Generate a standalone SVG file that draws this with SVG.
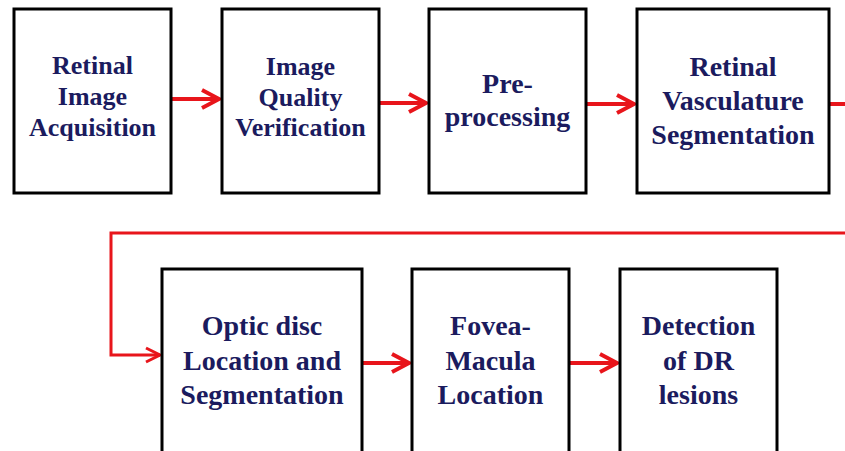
<svg xmlns="http://www.w3.org/2000/svg" width="845" height="451" viewBox="0 0 845 451">
  <style>
    .box { fill: #ffffff; stroke: #000000; stroke-width: 3; }
    .lbl { font-family: "Liberation Serif", "Times New Roman", serif; font-weight: bold; fill: #1b1b5e; text-anchor: middle; }
    .s26 { font-size: 26px; }
    .s28 { font-size: 28px; }
    .flow { fill: none; stroke: #e8151b; stroke-width: 4; }
    .loop { fill: none; stroke: #e8151b; stroke-width: 3; }
  </style>
  <defs>
    <marker id="head" markerUnits="userSpaceOnUse" orient="auto" refX="0" refY="0" markerWidth="30" markerHeight="30" overflow="visible">
      <path d="M -17 -9 L 0 0 L -17 9" fill="none" stroke="#e8151b" stroke-width="4" stroke-linejoin="miter"/>
    </marker>
    <marker id="headThin" markerUnits="userSpaceOnUse" orient="auto" refX="0" refY="0" markerWidth="30" markerHeight="30" overflow="visible">
      <path d="M -14 -7 L 0 0 L -14 7" fill="none" stroke="#e8151b" stroke-width="3"/>
    </marker>
  </defs>
  <rect width="845" height="451" fill="#ffffff"/>

  <g id="connectors">
    <line class="flow" x1="171" y1="99" x2="219" y2="99" marker-end="url(#head)"/>
    <line class="flow" x1="379" y1="103" x2="426" y2="103" marker-end="url(#head)"/>
    <line class="flow" x1="586" y1="104" x2="634" y2="104" marker-end="url(#head)"/>
    <line class="flow" x1="829" y1="104" x2="845" y2="104"/>
    <polyline class="loop" points="845,233 111,233 111,355 160,355" marker-end="url(#headThin)"/>
    <line class="flow" x1="362" y1="363" x2="409" y2="363" marker-end="url(#head)"/>
    <line class="flow" x1="569" y1="363" x2="617" y2="363" marker-end="url(#head)"/>
  </g>

  <g id="acquisition">
    <rect class="box" x="14" y="9" width="157" height="184"/>
    <text class="lbl s26" x="92.5" y="74">Retinal</text>
    <text class="lbl s26" x="92.5" y="105">Image</text>
    <text class="lbl s26" x="92.5" y="136">Acquisition</text>
  </g>

  <g id="quality">
    <rect class="box" x="222" y="9" width="157" height="184"/>
    <text class="lbl s26" x="300.5" y="75">Image</text>
    <text class="lbl s26" x="300.5" y="106">Quality</text>
    <text class="lbl s26" x="300.5" y="136">Verification</text>
  </g>

  <g id="preprocessing">
    <rect class="box" x="429" y="9" width="157" height="184"/>
    <text class="lbl s28" x="507.5" y="93">Pre-</text>
    <text class="lbl s28" x="507.5" y="126">processing</text>
  </g>

  <g id="vasculature">
    <rect class="box" x="637" y="9" width="192" height="184"/>
    <text class="lbl s28" x="733" y="76">Retinal</text>
    <text class="lbl s28" x="733" y="110">Vasculature</text>
    <text class="lbl s28" x="733" y="144">Segmentation</text>
  </g>

  <g id="optic-disc">
    <rect class="box" x="162" y="269" width="200" height="195"/>
    <text class="lbl s28" x="262" y="335">Optic disc</text>
    <text class="lbl s28" x="262" y="370">Location and</text>
    <text class="lbl s28" x="262" y="404">Segmentation</text>
  </g>

  <g id="fovea">
    <rect class="box" x="412" y="269" width="157" height="195"/>
    <text class="lbl s28" x="490.5" y="335">Fovea-</text>
    <text class="lbl s28" x="490.5" y="370">Macula</text>
    <text class="lbl s28" x="490.5" y="404">Location</text>
  </g>

  <g id="lesions">
    <rect class="box" x="620" y="269" width="157" height="195"/>
    <text class="lbl s28" x="698.5" y="335">Detection</text>
    <text class="lbl s28" x="698.5" y="370">of DR</text>
    <text class="lbl s28" x="698.5" y="404">lesions</text>
  </g>
</svg>
